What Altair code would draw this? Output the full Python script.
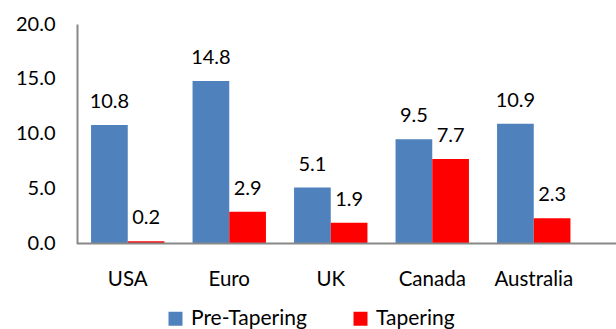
import altair as alt
import pandas as pd

categories = ["USA", "Euro", "UK", "Canada", "Australia"]
pre_tapering = [10.8, 14.8, 5.1, 9.5, 10.9]
tapering = [0.2, 2.9, 1.9, 7.7, 2.3]
series_names = ["Pre-Tapering", "Tapering"]
colors = ["#4F81BD", "#FF0000"]
y_ticks = [0, 5, 10, 15, 20]

rows = []
for c, a, b in zip(categories, pre_tapering, tapering):
    rows.append({"category": c, "series": series_names[0], "value": a})
    rows.append({"category": c, "series": series_names[1], "value": b})
df = pd.DataFrame(rows)

FONT = "Lato"

x = alt.X(
    "category:N", sort=categories,
    scale=alt.Scale(range=[0, 507.5], paddingInner=0, paddingOuter=0),
    axis=alt.Axis(title=None, domain=False, ticks=False, labelAngle=0,
                  labelPadding=26, labelFontSize=20.5, labelColor="#000",
                  labelFont=FONT),
)
xo = alt.XOffset("series:N", sort=series_names,
                 scale=alt.Scale(paddingInner=0, paddingOuter=0.383))
y = alt.Y(
    "value:Q", scale=alt.Scale(domain=[0, 20], nice=False),
    axis=alt.Axis(title=None, values=y_ticks, format=".1f", grid=False,
                  ticks=False, domainColor="#888888", domainWidth=2,
                  labelPadding=22, labelFontSize=20, labelFont=FONT,
                  labelColor="#000"),
)
color = alt.Color(
    "series:N", sort=series_names,
    scale=alt.Scale(domain=series_names, range=colors),
    legend=alt.Legend(title=None, orient="none", legendX=88, legendY=284,
                      direction="horizontal", symbolType="square",
                      symbolSize=196, symbolStrokeWidth=0, symbolOpacity=1,
                      labelFontSize=21, labelFont=FONT, labelColor="#000",
                      labelOffset=5, columnPadding=43),
)

base = alt.Chart(df)
bars = base.mark_bar().encode(x=x, xOffset=xo, y=y, color=color)
labels = base.mark_text(dy=-23, fontSize=20, font=FONT, color="#000",
                        baseline="middle").encode(
    x=x, xOffset=xo, y=y, text=alt.Text("value:Q", format=".1f"))
baseline = alt.Chart(pd.DataFrame({"v": [0]})).mark_rule(
    color="#888888", strokeWidth=2).encode(y=alt.Y("v:Q"))

chart = alt.layer(bars, labels, baseline).properties(
    width=539, height=219.5,
    autosize=alt.AutoSizeParams(type="none"),
    padding={"left": 77, "top": 24, "right": 0, "bottom": 85.5},
    background="white",
).configure_view(stroke=None)

chart.save("out.html", embed_options={"renderer": "svg", "actions": False})
